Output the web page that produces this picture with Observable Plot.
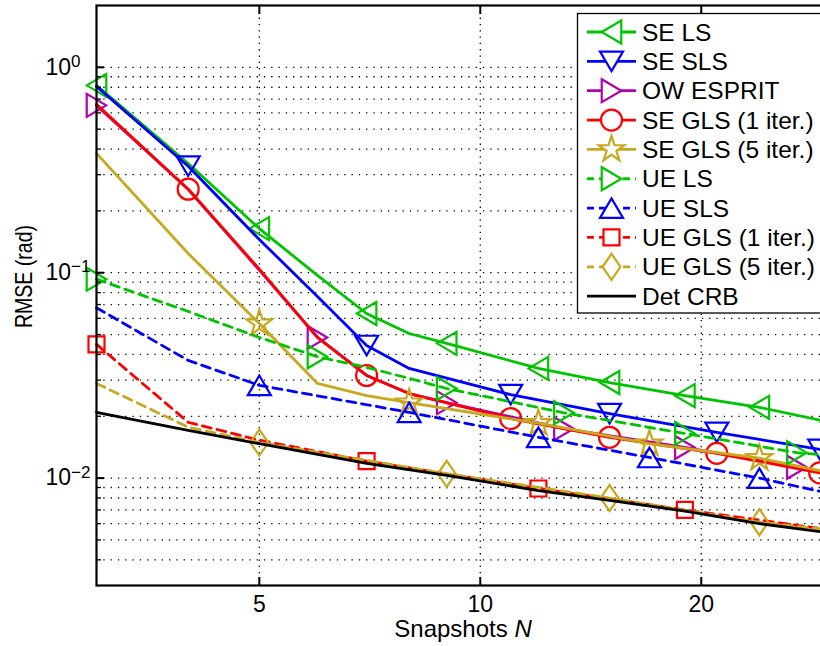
<!DOCTYPE html>
<html><head><meta charset="utf-8">
<script src="https://cdn.jsdelivr.net/npm/d3@7"></script>
<script src="https://cdn.jsdelivr.net/npm/@observablehq/plot@0.6"></script>
<style>
html,body{margin:0;padding:0;background:#fff;overflow:hidden;}
#chart{position:relative;width:820px;height:646px;overflow:hidden;}
</style></head><body><div id="chart"></div>
<script>
// ---------- data ----------
const LEGEND_NAMES = ["SE LS","SE SLS","OW ESPRIT","SE GLS (1 iter.)","SE GLS (5 iter.)","UE LS","UE SLS","UE GLS (1 iter.)","UE GLS (5 iter.)","Det CRB"];

const N_SE_LS   = [3,4,5,6,7,8,9,12,15,19,24,30];
const V_SE_LS   = [0.817,0.34,0.164,0.097,0.0633,0.0506,0.0453,0.0342,0.0292,0.0252,0.0221,0.0187];
const MK_SE_LS  = [3,5,7,9,12,15,19,24,30];

const N_SE_SLS  = [3,4,5,6,7,8,11,15,21,29,30];
const V_SE_SLS  = [0.808,0.33,0.145,0.0767,0.0442,0.0342,0.0255,0.0206,0.0167,0.0138,0.0134];
const MK_SE_SLS = [4,7,11,15,21,29];

const N_OW      = [3,4,5,6,7,8,9,13,19,27,30];
const V_OW      = [0.653,0.255,0.103,0.0484,0.0316,0.0258,0.0233,0.0174,0.0141,0.0113,0.0104];
const MK_OW     = [3,6,9,13,19,27];

const N_SE_GLS1 = [3,4,5,6,7,8,11,15,21,29,30];
const V_SE_GLS1 = [0.66,0.255,0.104,0.0484,0.0316,0.0258,0.0195,0.0158,0.0132,0.0106,0.0103];
const MK_SE_GLS1= [4,7,11,15,21,29];

const N_SE_GLS5 = [3,4,5,6,7,8,12,17,24,30];
const V_SE_GLS5 = [0.381,0.124,0.0566,0.0289,0.0252,0.0233,0.0185,0.0147,0.0125,0.0106];
const MK_SE_GLS5= [5,8,12,17,24];

const N_UE_LS   = [3,4,5,6,7,8,9,13,19,27,30];
const V_UE_LS   = [0.093,0.0648,0.0484,0.039,0.0346,0.0306,0.0273,0.0208,0.0165,0.0133,0.0129];
const MK_UE_LS  = [3,6,9,13,19,27];

const N_UE_SLS  = [3,4,5,8,12,17,24,30];
const V_UE_SLS  = [0.0675,0.0374,0.0283,0.0209,0.0158,0.0126,0.0100,0.0084];
const MK_UE_SLS = [5,8,12,17,24];

const N_UE_GLS1 = [3,4,5,7,12,19,30];
const V_UE_GLS1 = [0.0448,0.0187,0.0153,0.0121,0.0089,0.0070,0.0056];
const MK_UE_GLS1= [3,7,12,19];

const N_UE_GLS5 = [3,4,5,9,15,24,30];
const V_UE_GLS5 = [0.0289,0.0177,0.0149,0.0105,0.0080,0.0061,0.0056];
const MK_UE_GLS5= [5,9,15,24];

const N_CRB     = [3,4,5,7,9,12,15,19,24,30];
const V_CRB     = [0.0209,0.0171,0.0147,0.0118,0.0103,0.0087,0.0078,0.0069,0.0060,0.0054];

const X_TICKS = [5,10,20];
const Y_TICKS = [0.01,0.1,1];
const Y_TICK_EXP = ["\u22122","\u22121","0"];
const Y_GRID = [0.004,0.005,0.006,0.007,0.008,0.009,0.01,0.02,0.03,0.04,0.05,0.06,0.07,0.08,0.09,0.1,0.2,0.3,0.4,0.5,0.6,0.7,0.8,0.9,1];

// ---------- styles ----------
const GREEN="#00c400", BLUE="#0000ff", PURPLE="#b000b0", RED="#ff0000", GOLD="#c8a81e", BLACK="#000000";
const DASH = "9,6";

// custom MATLAB-like marker symbols (s = half extent in px)
function tri(dir){return {draw(ctx,size){const s=Math.sqrt(size/Math.PI), h=0.85*s;
  if(dir==="up"){ctx.moveTo(0,-h);ctx.lineTo(s,h);ctx.lineTo(-s,h);}
  else if(dir==="down"){ctx.moveTo(0,h);ctx.lineTo(s,-h);ctx.lineTo(-s,-h);}
  else if(dir==="left"){ctx.moveTo(-h,0);ctx.lineTo(h,-s);ctx.lineTo(h,s);}
  else {ctx.moveTo(h,0);ctx.lineTo(-h,-s);ctx.lineTo(-h,s);}
  ctx.closePath();}};}
const SYM = {
  left: tri("left"), right: tri("right"), up: tri("up"), down: tri("down"),
  circle: {draw(ctx,size){const s=Math.sqrt(size/Math.PI);ctx.moveTo(s,0);ctx.arc(0,0,s,0,2*Math.PI);ctx.closePath();}},
  square: {draw(ctx,size){const s=Math.sqrt(size/Math.PI);ctx.moveTo(-s,-s);ctx.lineTo(s,-s);ctx.lineTo(s,s);ctx.lineTo(-s,s);ctx.closePath();}},
  diamond:{draw(ctx,size){const s=Math.sqrt(size/Math.PI),w=0.69*s;ctx.moveTo(0,-s);ctx.lineTo(w,0);ctx.lineTo(0,s);ctx.lineTo(-w,0);ctx.closePath();}},
  star:   {draw(ctx,size){const R=Math.sqrt(size/Math.PI),r=R*0.382;
    for(let i=0;i<10;i++){const a=-Math.PI/2+i*Math.PI/5, rr=i%2?r:R; const x=rr*Math.cos(a), y=rr*Math.sin(a); if(i)ctx.lineTo(x,y); else ctx.moveTo(x,y);} ctx.closePath();}}
};
const SIZE = {left:11.5,right:11.5,up:11.5,down:11.5,circle:10.5,square:8,diamond:13,star:13.5};

const series = [
  {name:LEGEND_NAMES[0], N:N_SE_LS,   v:V_SE_LS,   mk:MK_SE_LS,   color:GREEN,  dash:null, sym:"left"},
  {name:LEGEND_NAMES[1], N:N_SE_SLS,  v:V_SE_SLS,  mk:MK_SE_SLS,  color:BLUE,   dash:null, sym:"down"},
  {name:LEGEND_NAMES[2], N:N_OW,      v:V_OW,      mk:MK_OW,      color:PURPLE, dash:null, sym:"right"},
  {name:LEGEND_NAMES[3], N:N_SE_GLS1, v:V_SE_GLS1, mk:MK_SE_GLS1, color:RED,    dash:null, sym:"circle"},
  {name:LEGEND_NAMES[4], N:N_SE_GLS5, v:V_SE_GLS5, mk:MK_SE_GLS5, color:GOLD,   dash:null, sym:"star"},
  {name:LEGEND_NAMES[5], N:N_UE_LS,   v:V_UE_LS,   mk:MK_UE_LS,   color:GREEN,  dash:DASH, sym:"right"},
  {name:LEGEND_NAMES[6], N:N_UE_SLS,  v:V_UE_SLS,  mk:MK_UE_SLS,  color:BLUE,   dash:DASH, sym:"up"},
  {name:LEGEND_NAMES[7], N:N_UE_GLS1, v:V_UE_GLS1, mk:MK_UE_GLS1, color:RED,    dash:DASH, sym:"square"},
  {name:LEGEND_NAMES[8], N:N_UE_GLS5, v:V_UE_GLS5, mk:MK_UE_GLS5, color:GOLD,   dash:DASH, sym:"diamond"},
  {name:LEGEND_NAMES[9], N:N_CRB,     v:V_CRB,     mk:[],         color:BLACK,  dash:null, sym:null}
];

const LW = 2.8, MW = 2.2;
const seriesMarks = [];
for (const s of series) {
  const rows = s.N.map((n,i)=>({N:n, v:s.v[i]}));
  const mrows = s.mk.map(n=>({N:n, v:s.v[s.N.indexOf(n)]}));
  seriesMarks.push(Plot.line(rows,{x:"N",y:"v",stroke:s.color,strokeWidth:LW,strokeDasharray:s.dash||undefined,strokeLinejoin:"round"}));
  if (s.sym) seriesMarks.push(Plot.dot(mrows,{x:"N",y:"v",symbol:SYM[s.sym],r:SIZE[s.sym],stroke:s.color,fill:"none",strokeWidth:MW}));
}

const FONT = "'Liberation Sans', Arial, Helvetica, sans-serif";
const chart = Plot.plot({
  width: 820, height: 646,
  marginTop: 5, marginBottom: 61, marginLeft: 96, marginRight: -10,
  x: {type:"log", domain:[3,30], label:null},
  y: {type:"log", domain:[0.003,2], label:null},
  style: {fontFamily: FONT, background:"#fff", overflow:"hidden", color:"#000"},
  marks: [
    Plot.gridY(Y_GRID, {stroke:"#000", strokeOpacity:1, strokeWidth:1.3, strokeDasharray:"1.3,6"}),
    Plot.gridX(X_TICKS, {stroke:"#000", strokeOpacity:1, strokeWidth:1.3, strokeDasharray:"1.3,5"}),
    ...seriesMarks,
    Plot.frame({stroke:"#000", strokeWidth:2.2}),
    Plot.axisY(Y_GRID, {anchor:"left", tickSize:-5, tickFormat:()=>"", strokeWidth:1.3, label:null}),
    Plot.axisY(Y_TICKS, {anchor:"left", tickSize:-8, tickPadding:59, textAnchor:"start", fontSize:23,
      tickFormat:(d)=>"10^"+Y_TICK_EXP[Y_TICKS.indexOf(d)], strokeWidth:2, label:null}),
    Plot.axisX(X_TICKS, {anchor:"bottom", tickSize:-8, tickPadding:18, fontSize:23, tickFormat:d=>String(d), strokeWidth:2, label:null}),
    Plot.axisX(X_TICKS, {anchor:"top", tickSize:-8, tickFormat:()=>"", strokeWidth:2, label:null})
  ]
});
document.getElementById("chart").appendChild(chart);

const svg = d3.select(chart);
// superscripts for y tick labels
svg.selectAll("text").each(function(){
  const t = this.textContent;
  if (/^10\^/.test(t)) {
    const e = t.split("^")[1];
    const el = d3.select(this);
    el.text(null);
    el.append("tspan").text("10");
    el.append("tspan").attr("dy","-0.45em").attr("font-size","17").text(e);
  }
});
// axis titles
svg.append("text").attr("x",463).attr("y",637).attr("text-anchor","middle")
  .attr("font-size",24).attr("font-family",FONT).attr("fill","#000")
  .call(t=>{t.append("tspan").text("Snapshots "); t.append("tspan").attr("font-style","italic").text("N");});
svg.append("text").attr("transform","translate(32,276.5) rotate(-90)").attr("text-anchor","middle")
  .attr("font-size",24).attr("font-family",FONT).attr("fill","#000")
  .attr("textLength",103).attr("lengthAdjust","spacingAndGlyphs").text("RMSE (rad)");

// legend
const lg = svg.append("g").attr("font-family",FONT).attr("text-anchor","start");
lg.append("rect").attr("x",577.5).attr("y",13.5).attr("width",262).attr("height",299.5)
  .attr("fill","#fff").attr("stroke","#000").attr("stroke-width",1.3);
series.forEach((s,i)=>{
  const y = 32 + i*29.35;
  lg.append("line").attr("x1",587).attr("x2",636).attr("y1",y).attr("y2",y)
    .attr("stroke",s.color).attr("stroke-width",LW).attr("stroke-dasharray",s.dash?"7,5":null);
  if (s.sym) {
    const p = d3.path(); SYM[s.sym].draw(p, Math.PI*SIZE[s.sym]*SIZE[s.sym]);
    lg.append("path").attr("d",p.toString()).attr("transform",`translate(611.5,${y})`)
      .attr("fill","#fff").attr("stroke",s.color).attr("stroke-width",MW);
  }
  lg.append("text").attr("x",642).attr("y",y+8.5).attr("text-anchor","start")
    .attr("font-size",24.5).attr("fill","#000").text(s.name);
});
</script></body></html>
